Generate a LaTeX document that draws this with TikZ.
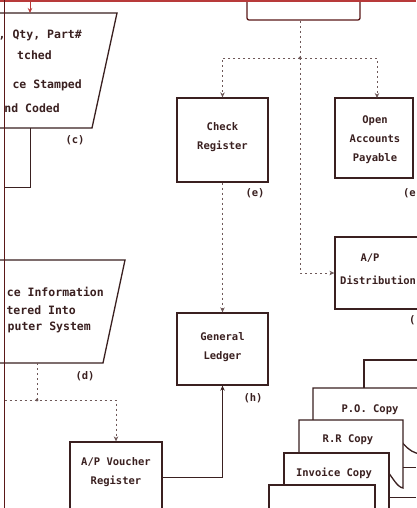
\documentclass[tikz,border=0pt]{standalone}
\usepackage{fontspec}
\setmonofont{DejaVu Sans Mono}
\usetikzlibrary{arrows.meta}
\definecolor{ink}{HTML}{3A2020}
\definecolor{topred}{HTML}{B83A3A}
\definecolor{edgered}{HTML}{5A1818}
\definecolor{dots}{HTML}{6E5858}
\begin{document}
\begin{tikzpicture}[x=1pt,y=-1pt,
  box/.style={draw=ink, line width=1.3pt, fill=white, inner sep=0pt},
  txt/.style={font=\fontsize{10.5}{19}\selectfont\ttfamily\bfseries, text=ink, inner sep=0pt, align=center},
  txtw/.style={font=\fontsize{11.5}{19}\selectfont\ttfamily\bfseries, text=ink, inner sep=0pt},
  dotline/.style={draw=dots, line width=0.9pt, dash pattern=on 2pt off 3pt},
  arr/.style={-{Stealth[length=5pt,width=4.5pt]}},
  solidline/.style={draw=ink, line width=1pt}
]
\useasboundingbox (0,0) rectangle (416,508);
\fill[white] (0,0) rectangle (416,508);

% top frame line and left line
\coordinate (topin) at (30,1);
\coordinate (lt) at (4.5,0);
\coordinate (lb) at (4.5,508);

% top box (cut off)
\node[box, draw=edgered, rounded corners=2pt, minimum width=113pt, minimum height=34pt] (top) at (303.5,3) {};
\draw[topred, line width=2.5pt] (0,1) -- (416,1);

% trapezoid (c)
\draw[ink, line width=1.3pt, fill=white] (-10,13) -- (117,13) -- (92,128) -- (-10,128);
\coordinate (ctop) at (30,13);
\coordinate (cbot) at (30,128);
% trapezoid (d)
\draw[ink, line width=1.3pt, fill=white] (-10,260) -- (125,260) -- (103,363) -- (-10,363);
\coordinate (dbot) at (37,363);

\node[txtw, anchor=east] (c1) at (82,35) {, Qty, Part\#};
\node[txtw, anchor=east] (c2) at (52,55) {tched};
\node[txtw, anchor=east] (c3) at (82,85) {ce Stamped};
\node[txtw, anchor=east] (c4) at (60,108) {nd Coded};
\node[txtw, anchor=east] (d1) at (104,292) {ce Information};
\node[txtw, anchor=east] (d2) at (76,310) {tered Into};
\node[txtw, anchor=east] (d3) at (91,327) {puter System};

% boxes
\node[box, minimum width=91pt, minimum height=84pt] (check) at (222.5,140) {};
\node[txt] (checkt) at (222.5,137) {Check\\Register};
\node[box, minimum width=78pt, minimum height=80pt] (oap) at (374,138) {};
\node[txt] (oapt) at (375,140) {Open\\Accounts\\Payable};
\node[box, minimum width=105pt, minimum height=72pt] (dist) at (387.5,273) {};
\node[txt] (distt1) at (370,258) {A/P};
\node[txt, anchor=west] (distt2) at (340,280) {Distribution};
\node[box, minimum width=91pt, minimum height=72pt] (ledger) at (222.5,349) {};
\node[txt] (ledgert) at (222.5,347) {General\\Ledger};
\node[box, minimum width=92pt, minimum height=88pt] (voucher) at (116,486) {};
\node[txt] (vouchert) at (116,472.5) {A/P Voucher\\Register};

% labels
\node[txt] (lc) at (75,140) {(c)};
\node[txt] (ld) at (85,376) {(d)};
\node[txt] (le) at (255,193) {(e)};
\node[txt, anchor=east] (lf) at (416,193) {(e};
\node[txt, anchor=west] (lg) at (409,320) {(};
\node[txt] (lh) at (253,398) {(h)};

% copies stack
\draw[ink, line width=1.3pt, fill=white] (364,425) -- (364,360) -- (440,360) -- (440,425);
\draw[ink, line width=1.3pt, fill=white] (313,455) -- (313,388) -- (440,388) -- (440,458) -- (416,453) .. controls (410,451) and (406,447) .. (400,440) -- cycle;
\draw[ink, line width=1.3pt, fill=white] (299,472) -- (299,420) -- (403,420) -- (403,488) .. controls (397,487) and (393,478) .. (385,468) -- cycle;
\draw[ink, line width=1.3pt, fill=white] (284,520) -- (284,453) -- (389,453) -- (389,520);
\draw[ink, line width=1.3pt, fill=white] (269,520) -- (269,485) -- (375,485) -- (375,520);
\node[txt] (po) at (370,410) {P.O. Copy};
\node[txt] (rr) at (348,440) {R.R Copy};
\node[txt] (inv) at (334,473) {Invoice Copy};
\coordinate (rrout) at (403,467);
\coordinate (rrend) at (416,467);
\coordinate (invout) at (389,497);
\coordinate (invend) at (416,497);
\draw[solidline] (rrout) -- (rrend);
\draw[solidline] (invout) -- (invend);

% connectors
\draw[topred, line width=1pt, arr] (topin) -- (ctop);
\draw[edgered, line width=1.3pt] (lt) -- (lb);
\draw[solidline] (cbot) -- (30,187) -- (lt |- 0,187);

\coordinate (j1) at (300,58);
\draw[dotline] (j1 |- top.south) -- (j1);
\draw[dotline, arr] (j1) -| (check.north);
\draw[dotline, arr] (j1) -| (377,98);
\draw[dotline, arr] (j1) |- (dist.west);
\fill[dots] (j1) circle (1.6);
\draw[dotline, arr] (check.south) -- (ledger.north);

\coordinate (j2) at (37,400);
\draw[dotline] (dbot) -- (j2);
\draw[dotline, arr] (lt |- j2) -| (voucher.north);
\fill[dots] (j2) circle (1.6);

\coordinate (v1) at (162,477);
\draw[solidline, arr] (v1) -| (ledger.south);
\end{tikzpicture}
\end{document}
